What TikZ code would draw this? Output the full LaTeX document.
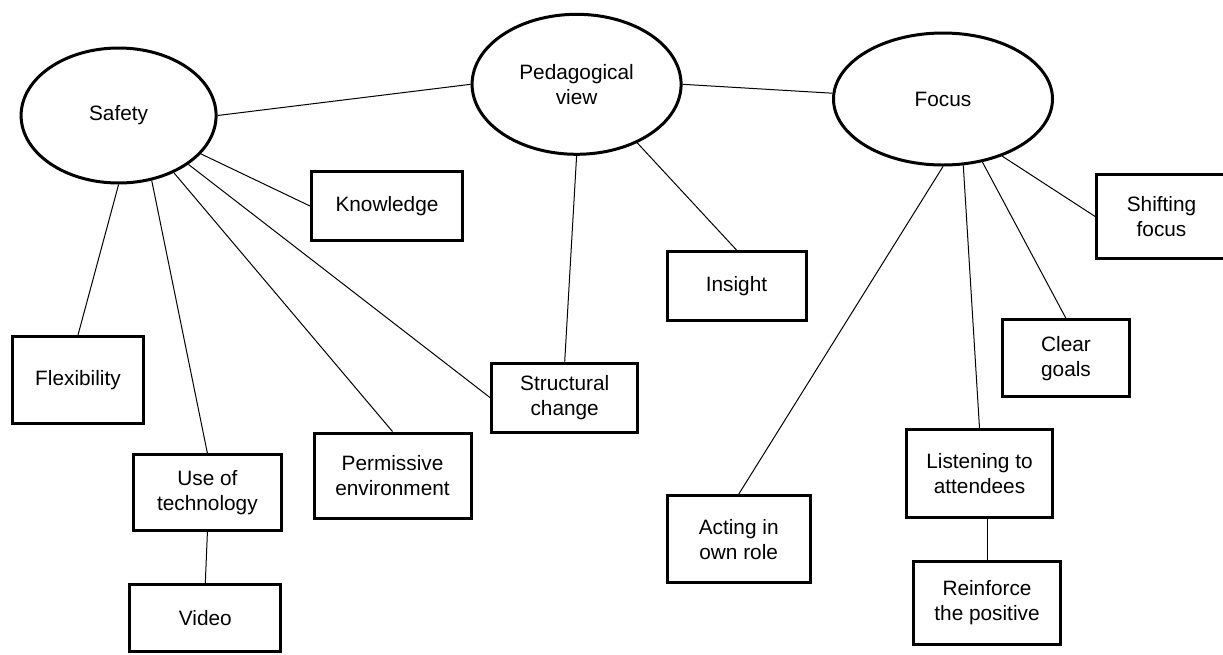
\documentclass[tikz,border=0pt]{standalone}
\usepackage{fontspec}
\setmainfont{Liberation Sans}
\usetikzlibrary{shapes.geometric}
\tikzset{
  topic/.style={ellipse, draw, line width=3pt, align=center, inner sep=2pt,
    font=\fontsize{20.8}{25}\selectfont},
  item/.style={rectangle, draw, line width=3pt, align=center, inner sep=2pt,
    font=\fontsize{20.8}{25}\selectfont},
  link/.style={line width=1pt},
}
\begin{document}
\begin{tikzpicture}[x=1pt,y=-1pt]
\useasboundingbox (0,0) rectangle (1223,654);

\node[topic, minimum width=195, minimum height=135] (safety) at (118.6,115.5) {Safety};
\node[topic, minimum width=209, minimum height=140] (ped) at (576.6,84.3) {Pedagogical\\view};
\node[topic, minimum width=219, minimum height=132] (focus) at (943,99) {Focus};

\node[item, minimum width=151, minimum height=69] (knowledge) at (387,206) {Knowledge};
\node[item, minimum width=131, minimum height=87] (flex) at (78,380) {Flexibility};
\node[item, minimum width=148, minimum height=76] (tech) at (207.4,492.7) {Use of\\technology};
\node[item, minimum width=151, minimum height=67] (video) at (205.3,618.3) {Video};
\node[item, minimum width=157, minimum height=85] (perm) at (392.5,475.5) {Permissive\\environment};
\node[item, minimum width=146, minimum height=69] (struct) at (564.7,397.7) {Structural\\change};
\node[item, minimum width=139, minimum height=69] (insight) at (736.5,286) {Insight};
\node[item, minimum width=143, minimum height=87] (acting) at (738.7,539.2) {Acting in\\own role};
\node[item, minimum width=146, minimum height=88] (listen) at (979.5,473.5) {Listening to\\attendees};
\node[item, minimum width=147, minimum height=83] (reinforce) at (987,603) {Reinforce\\the positive};
\node[item, minimum width=127, minimum height=77] (clear) at (1066,358.4) {Clear\\goals};
\node[item, minimum width=130, minimum height=84] (shift) at (1161.5,216.4) {Shifting\\focus};

\foreach \a/\b in {safety.east/ped.west, ped.east/focus.177,
    safety.-25/knowledge.west, safety.south/flex.north, safety.-63/tech.north,
    safety.-46/perm.north, safety.-35/struct.west, ped.south/struct.north,
    ped.-44/insight.north, focus.south/acting.north, focus.-73/listen.north,
    focus.-58/clear.north, focus.-44/shift.west, tech.south/video.north}
  \draw[link] (\a) -- (\b);
\draw[link] (reinforce.north) -- (reinforce.north |- listen.south);

\end{tikzpicture}
\end{document}
